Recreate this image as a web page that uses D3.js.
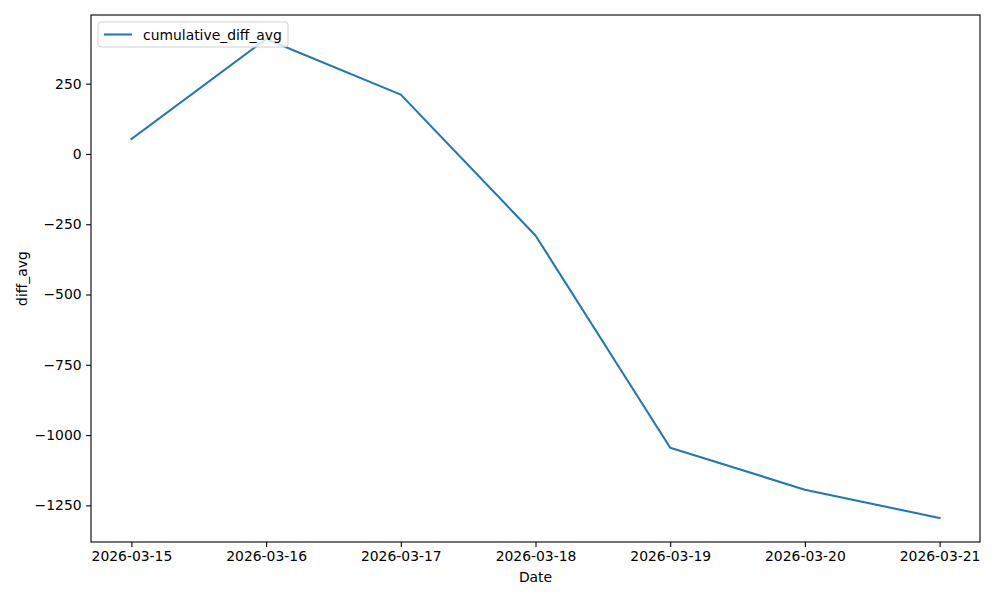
<!DOCTYPE html>
<html><head><meta charset="utf-8">
<script src="https://cdn.jsdelivr.net/npm/d3@7"></script>
<style>body{margin:0;background:#fff}svg{display:block;font-family:"DejaVu Sans",sans-serif}</style>
</head><body>
<svg id="c" width="1000" height="600"></svg>
<script>
const dates = ["2026-03-15","2026-03-16","2026-03-17","2026-03-18","2026-03-19","2026-03-20","2026-03-21"];
const values = [53, 409, 211, -290, -1045, -1194, -1295];
const yTicks = [250, 0, -250, -500, -750, -1000, -1250];
const seriesName = "cumulative_diff_avg";

const svg = d3.select("#c");
const L = 91, R = 980, T = 15, B = 542;
const parse = d3.utcParse("%Y-%m-%d");
const xs = dates.map(parse);
const x0 = xs[0].getTime(), x1 = xs[xs.length-1].getTime();
const xpad = (x1 - x0) * 0.05;
const x = d3.scaleUtc().domain([new Date(x0 - xpad), new Date(x1 + xpad)]).range([L, R]);
const ymin = d3.min(values), ymax = d3.max(values), ypad = (ymax - ymin) * 0.05;
const y = d3.scaleLinear().domain([ymin - ypad, ymax + ypad]).range([B, T]);

const fs = "13.9px";
const xAxis = svg.append("g").attr("transform", `translate(0,${B})`)
  .call(d3.axisBottom(x).tickValues(xs).tickFormat(d3.utcFormat("%Y-%m-%d")).tickSize(4.9).tickPadding(4.5));
const yAxis = svg.append("g").attr("transform", `translate(${L},0)`)
  .call(d3.axisLeft(y).tickValues(yTicks).tickFormat(d => d < 0 ? "\u2212" + Math.abs(d) : String(d)).tickSize(4.9).tickPadding(4.5));
[xAxis, yAxis].forEach(g => {
  g.select(".domain").remove();
  g.selectAll("line").attr("stroke", "#000").attr("stroke-width", 1.1);
  g.selectAll("text").attr("fill", "#000").style("font-size", fs).style("font-family", "DejaVu Sans");
});

svg.append("path").datum(values)
  .attr("fill", "none").attr("stroke", "#1f77b4").attr("stroke-width", 2.08)
  .attr("stroke-linejoin", "round").attr("stroke-linecap", "square")
  .attr("d", d3.line().x((d, i) => x(xs[i])).y(d => y(d)));

svg.append("rect").attr("x", L).attr("y", T).attr("width", R - L).attr("height", B - T)
  .attr("fill", "none").attr("stroke", "#000").attr("stroke-width", 1.1);

svg.append("text").attr("x", (L + R) / 2).attr("y", 582).attr("text-anchor", "middle")
  .style("font-size", fs).text("Date");
svg.append("text").attr("transform", `translate(27,${(T + B) / 2}) rotate(-90)`).attr("text-anchor", "middle")
  .style("font-size", fs).text("diff_avg");

const lg = svg.append("g");
lg.append("rect").attr("x", 98).attr("y", 22).attr("width", 190).attr("height", 25).attr("rx", 3)
  .attr("fill", "#fff").attr("fill-opacity", 0.8).attr("stroke", "#d0d0d0").attr("stroke-width", 1);
lg.append("line").attr("x1", 104).attr("x2", 132).attr("y1", 34.5).attr("y2", 34.5)
  .attr("stroke", "#1f77b4").attr("stroke-width", 2.08);
lg.append("text").attr("x", 143).attr("y", 39.5).style("font-size", fs).text(seriesName);
</script>
</body></html>
